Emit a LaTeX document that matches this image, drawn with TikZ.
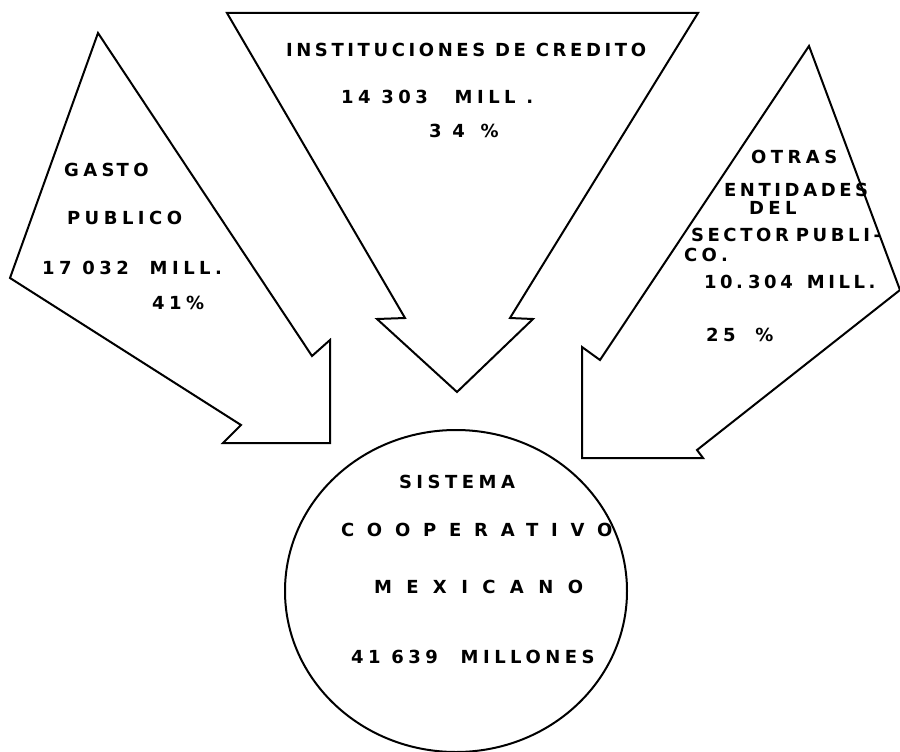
\documentclass[tikz,border=0pt]{standalone}
\usepackage{fontspec}
\newfontfamily\rotulo[LetterSpace=25]{DejaVu Sans}
\newfontfamily\rotuloestrecho[LetterSpace=20]{DejaVu Sans}
\newfontfamily\rotuloancho[LetterSpace=71]{DejaVu Sans}
\newfontfamily\rotulomex[LetterSpace=80]{DejaVu Sans}
\tikzset{letrero/.style={anchor=base west, inner sep=0pt, font=\rotulo\bfseries\fontsize{18}{20}\selectfont},
  letreroestrecho/.style={letrero, font=\rotuloestrecho\bfseries\fontsize{18}{20}\selectfont},
  letreroancho/.style={letrero, font=\rotuloancho\bfseries\fontsize{18}{20}\selectfont},
  letreromex/.style={letrero, font=\rotulomex\bfseries\fontsize{18}{20}\selectfont}}
\begin{document}
\begin{tikzpicture}[x=1pt,y=-1pt,line width=2pt]
\useasboundingbox (0,0) rectangle (900,752);
% flecha del gasto publico
\draw (98,33) -- (10,278) -- (241,425) -- (223,443) -- (330,443) -- (330,340) -- (312,356) -- cycle;
\node[letrero] (gasto) at (63,176) {GAS\hspace{2pt}TO};
\node[letrero] (publico) at (66,224) {PUBLICO};
\node[letrero] (millgasto) at (41,274) {17 032\hspace{10pt} MILL.};
\node[letrero] (pctgasto) at (151,309) {41\%};
% flecha de instituciones de credito
\draw (227,13) -- (698,13) -- (510,318) -- (533,319) -- (457,392) -- (377,319) -- (405,318) -- cycle;
\node[letreroestrecho] (instituciones) at (285,57) {INSTITUCIONES DE CREDITO};
\node[letrero] (millcredito) at (340,103) {14 303\hspace{16pt} MILL .};
\node[letrero] (pctcredito) at (428,137) {3 4\hspace{5pt} \%};
% flecha de otras entidades
\draw (809,46) -- (900,290) -- (697,450) -- (703,458) -- (582,458) -- (582,347) -- (600,360) -- cycle;
\node[letrero] (otras) at (750,163) {OTRAS};
\node[letreroestrecho] (entidades) at (723,196) {ENTIDADES};
\node[letrero] (del) at (748,214) {DEL};
\node[letreroestrecho] (sector) at (690,241) {SECTOR\hspace{7pt}PUBLI-};
\node[letrero] (co) at (683,261) {CO.};
\node[letreroestrecho] (millotras) at (703,288) {10.\hspace{5pt}304\hspace{4pt} MILL.};
\node[letrero] (pctotras) at (705,341) {25\hspace{9pt} \%};
% sistema cooperativo
\draw (456,591) ellipse [x radius=171pt, y radius=161pt];
\node[letrero] (sistema) at (398,488) {SISTEMA};
\node[letreroancho] (cooperativo) at (340,536) {COOPERATIVO};
\node[letreromex] (mexicano) at (373,593) {MEXICANO};
\node[letrero] (millones) at (350,663) {41 639\hspace{12pt} MILLONES};
\end{tikzpicture}
\end{document}
